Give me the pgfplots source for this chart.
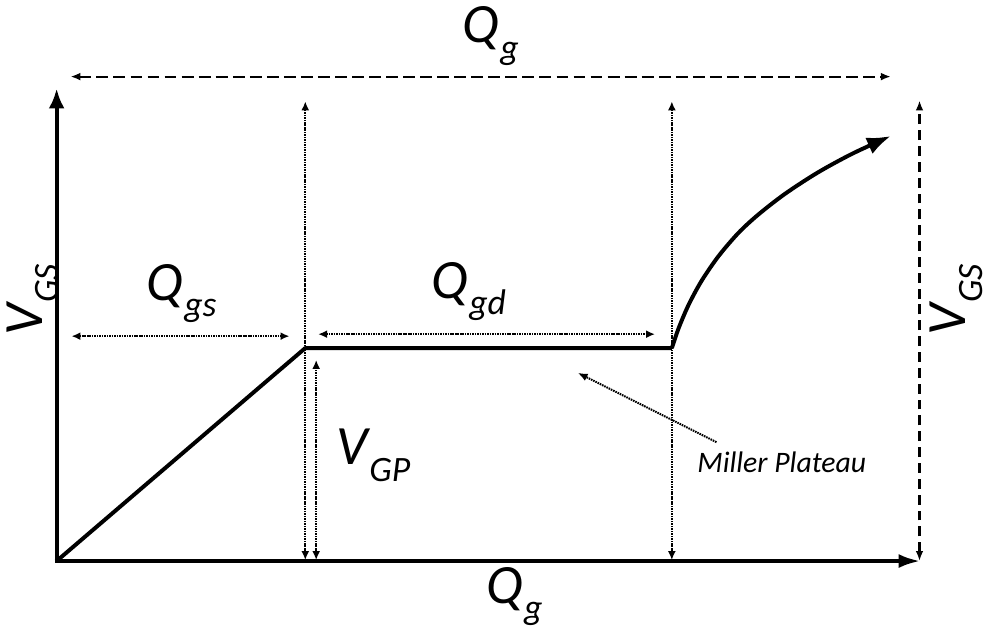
\documentclass[border=0pt]{standalone}
\usepackage{pgfplots}
\pgfplotsset{compat=1.18}
\usepackage{fontspec}
\setmainfont{Carlito}
\usetikzlibrary{arrows.meta}

% symbol with a lowered subscript, e.g. \sym{Q}{gs}
\newcommand{\sym}[2]{#1\kern0.02em\raisebox{-0.3em}{\fontsize{18}{18}\selectfont #2}}

\tikzset{
  fine/.style={line width=1pt, dash pattern=on 0.8pt off 0.45pt},
  dblfine/.style={fine, {Latex[length=4.5pt,width=4pt]}-{Latex[length=4.5pt,width=4pt]}},
  big/.style={font=\fontsize{28}{28}\selectfont\itshape},
}

\begin{document}
\begin{tikzpicture}
\begin{axis}[
  width=494.5pt, height=311.5pt, scale only axis,
  xmin=0, xmax=989, ymin=0, ymax=623, y dir=reverse,
  hide axis, clip=false,
]
% frame of the drawing area
\addplot[draw=none] coordinates {(0,0) (989,623)};

% axes
\addplot[line width=2pt, -{Latex[length=10pt,width=8pt]}] coordinates {(52,562) (52,85)};
\addplot[line width=2pt, -{Latex[length=11pt,width=7pt]}] coordinates {(50,562) (924,562)};

% gate charge curve: linear rise, Miller plateau, final rise
\addplot[line width=2pt, line join=round] coordinates {(52,562) (303,347) (673,347)};
\addplot[line width=2pt, smooth, -{Latex[length=12pt,width=9pt]}] coordinates {
  (673,347) (680,326.6) (690,303.2) (703,279.2) (720,254.4) (740,231.0)
  (760,212.5) (787,191.5) (820,170.0) (855,150.9) (894,133)};

% vertical markers at the plateau edges
\addplot[dblfine] coordinates {(303,561) (303,98)};
\addplot[dblfine] coordinates {(673,561) (673,98)};
% plateau voltage
\addplot[dblfine] coordinates {(314,561) (314,359)};
% Q_gs and Q_gd spans
\addplot[dblfine] coordinates {(67,335) (287,335)};
\addplot[dblfine] coordinates {(316,333) (656,333)};

% total gate charge span
\addplot[line width=1pt, dash pattern=on 6pt off 2.6pt,
  {Latex[length=5pt,width=4pt]}-{Latex[length=5pt,width=4pt]}] coordinates {(66,73) (894,73)};
% total V_GS span
\addplot[line width=1.4pt, dash pattern=on 5pt off 3pt,
  {Latex[length=5pt,width=3.8pt]}-{Latex[length=5pt,width=3.8pt]}] coordinates {(923,562) (923,97)};

% Miller plateau pointer
\addplot[fine, -{Latex[length=5pt,width=4pt]}] coordinates {(718,442) (578,372)};

% labels
\node[big] at (axis cs:490,32) {\sym{Q}{g}};
\node[big] at (axis cs:514,598) {\sym{Q}{g}};
\node[big] at (axis cs:178,292) {\sym{Q}{gs}};
\node[big] at (axis cs:468,290) {\sym{Q}{gd}};
\node[big] at (axis cs:372,455) {\sym{V}{GP}};
\node[font=\fontsize{15}{15}\selectfont\itshape] at (axis cs:784,462) {Miller Plateau};
\node[big, rotate=90] at (axis cs:28,298) {\sym{V}{GS}};
\node[big, rotate=90] at (axis cs:960,298) {\sym{V}{GS}};
\end{axis}
\end{tikzpicture}
\end{document}
